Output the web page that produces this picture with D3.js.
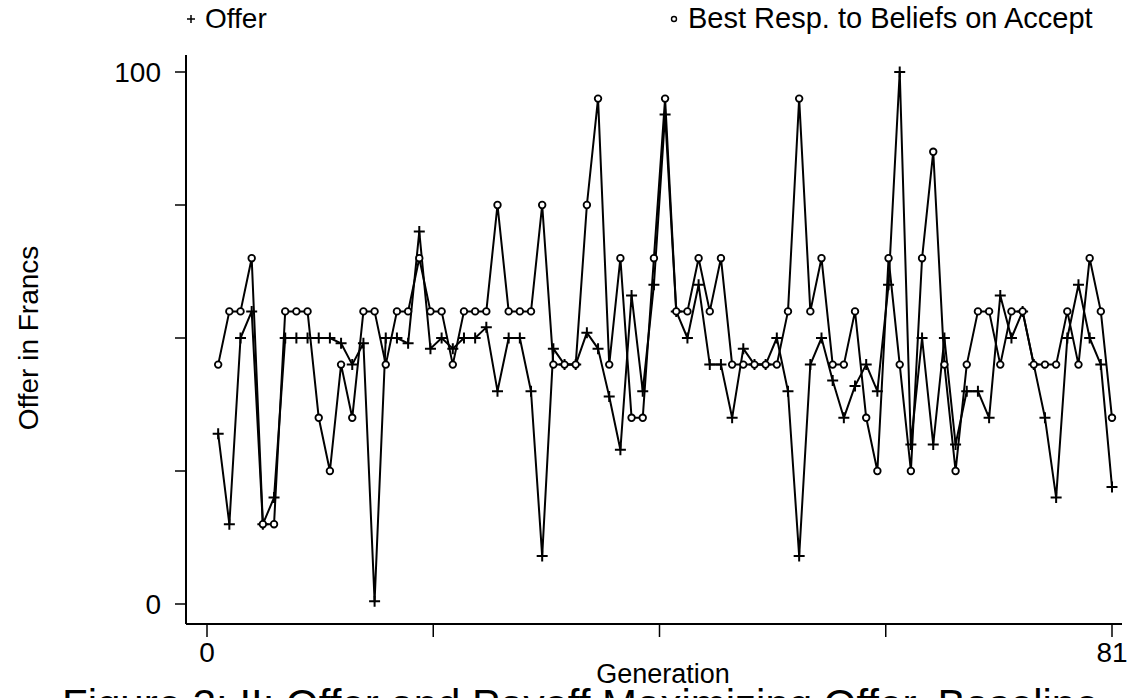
<!DOCTYPE html>
<html>
<head>
<meta charset="utf-8">
<script src="https://cdn.jsdelivr.net/npm/d3@7"></script>
<style>
  body { margin: 0; background: #fff; }
  svg { display: block; font-family: 'Liberation Sans', Arial, sans-serif; }
</style>
</head>
<body>
<svg id="chart" width="1136" height="698"></svg>
<script>
// generations 1..81
const generations = d3.range(1, 82)

const offers = [
  32, 15, 50, 55, 15, 20, 50, 50, 50, 50,
  50, 49, 45, 49, 0.5, 50, 50, 49, 70, 48,
  50, 48, 50, 50, 52, 40, 50, 50, 40, 9,
  48, 45, 45, 51, 48, 39, 29, 58, 40, 60,
  92, 55, 50, 60, 45, 45, 35, 48, 45, 45,
  50, 40, 9, 45, 50, 42, 35, 41, 45, 40,
  60, 100, 30, 50, 30, 50, 30, 40, 40, 35,
  58, 50, 55, 45, 35, 20, 50, 60, 50, 45,
  22
]

const bestResp = [
  45, 55, 55, 65, 15, 15, 55, 55, 55, 35,
  25, 45, 35, 55, 55, 45, 55, 55, 65, 55,
  55, 45, 55, 55, 55, 75, 55, 55, 55, 75,
  45, 45, 45, 75, 95, 45, 65, 35, 35, 65,
  95, 55, 55, 65, 55, 65, 45, 45, 45, 45,
  45, 55, 95, 55, 65, 45, 45, 55, 35, 25,
  65, 45, 25, 65, 85, 45, 25, 45, 55, 55,
  45, 55, 55, 45, 45, 45, 55, 45, 65, 55,
  35
]

const xTicks = [0, 20.25, 40.5, 60.75, 81]
const xLabels = [0, 81]
const yTicks = [0, 25, 50, 75, 100]
const yLabels = [0, 100]

const legendNames = ['Offer', 'Best Resp. to Beliefs on Accept']
const yTitle = 'Offer in Francs'
const xTitle = 'Generation'
const caption = 'Figure 3: II: Offer and Payoff Maximizing Offer, Baseline'

const AXIS_X = 186
const AXIS_Y = 624
const PLUS = 5.5
const DOT_R = 3.3

const x = d3.scaleLinear().domain([0, 81]).range([207, 1112])
const y = d3.scaleLinear().domain([0, 100]).range([604, 72])

const svg = d3.select('#chart')

// axes (stata style: line offset from the plot region)
svg.append('line')
  .attr('x1', AXIS_X).attr('x2', AXIS_X)
  .attr('y1', 55).attr('y2', AXIS_Y)
  .attr('stroke', '#000').attr('stroke-width', 2)

svg.append('line')
  .attr('x1', AXIS_X).attr('x2', 1122)
  .attr('y1', AXIS_Y).attr('y2', AXIS_Y)
  .attr('stroke', '#000').attr('stroke-width', 2)

svg.selectAll('.ytick')
  .data(yTicks)
  .enter().append('line')
  .attr('class', 'ytick')
  .attr('x1', AXIS_X - 11).attr('x2', AXIS_X)
  .attr('y1', d => y(d)).attr('y2', d => y(d))
  .attr('stroke', '#000').attr('stroke-width', 1.5)

svg.selectAll('.ylab')
  .data(yLabels)
  .enter().append('text')
  .attr('class', 'ylab')
  .attr('x', 161)
  .attr('y', d => y(d) + 10)
  .attr('text-anchor', 'end')
  .attr('font-size', 28)
  .text(d => d)

svg.selectAll('.xtick')
  .data(xTicks)
  .enter().append('line')
  .attr('class', 'xtick')
  .attr('x1', d => x(d)).attr('x2', d => x(d))
  .attr('y1', AXIS_Y).attr('y2', AXIS_Y + 13)
  .attr('stroke', '#000').attr('stroke-width', 1.5)

svg.selectAll('.xlab')
  .data(xLabels)
  .enter().append('text')
  .attr('class', 'xlab')
  .attr('x', d => x(d))
  .attr('y', 662)
  .attr('text-anchor', 'middle')
  .attr('font-size', 28)
  .text(d => d)

svg.append('text')
  .attr('x', 663).attr('y', 683)
  .attr('text-anchor', 'middle')
  .attr('font-size', 27)
  .text(xTitle)

svg.append('text')
  .attr('transform', `translate(38, ${y(50)}) rotate(-90)`)
  .attr('text-anchor', 'middle')
  .attr('font-size', 28)
  .text(yTitle)

svg.append('text')
  .attr('x', 62).attr('y', 719)
  .attr('font-size', 42)
  .text(caption)

// series
const line = d3.line()
  .x((d, i) => x(generations[i]))
  .y(d => y(d))

svg.append('path')
  .datum(offers)
  .attr('fill', 'none')
  .attr('stroke', '#000')
  .attr('stroke-width', 2)
  .attr('stroke-linejoin', 'round')
  .attr('d', line)

svg.append('path')
  .datum(bestResp)
  .attr('fill', 'none')
  .attr('stroke', '#000')
  .attr('stroke-width', 2)
  .attr('stroke-linejoin', 'round')
  .attr('d', line)

const plusPath = `M${-PLUS},0H${PLUS}M0,${-PLUS}V${PLUS}`

svg.selectAll('.plus')
  .data(offers)
  .enter().append('path')
  .attr('class', 'plus')
  .attr('transform', (d, i) => `translate(${x(generations[i])}, ${y(d)})`)
  .attr('d', plusPath)
  .attr('stroke', '#000')
  .attr('stroke-width', 2)

svg.selectAll('.dot')
  .data(bestResp)
  .enter().append('circle')
  .attr('class', 'dot')
  .attr('cx', (d, i) => x(generations[i]))
  .attr('cy', d => y(d))
  .attr('r', DOT_R)
  .attr('fill', '#fff')
  .attr('stroke', '#000')
  .attr('stroke-width', 1.8)

// legend, the long key is cut at the right like in the original
svg.append('defs').append('clipPath')
  .attr('id', 'legclip')
  .append('rect')
  .attr('x', 0).attr('y', 0).attr('width', 1101).attr('height', 40)

const legend = svg.append('g').attr('clip-path', 'url(#legclip)')

legend.append('path')
  .attr('transform', 'translate(191, 19)')
  .attr('d', `M-4,0H4M0,-4V4`)
  .attr('stroke', '#000').attr('stroke-width', 1.5)

legend.append('text')
  .attr('x', 205).attr('y', 28)
  .attr('font-size', 28)
  .text(legendNames[0])

legend.append('circle')
  .attr('cx', 674).attr('cy', 19).attr('r', 2.5)
  .attr('fill', '#fff').attr('stroke', '#000').attr('stroke-width', 1.4)

legend.append('text')
  .attr('x', 688).attr('y', 28)
  .attr('font-size', 29)
  .text(legendNames[1])
</script>
</body>
</html>
